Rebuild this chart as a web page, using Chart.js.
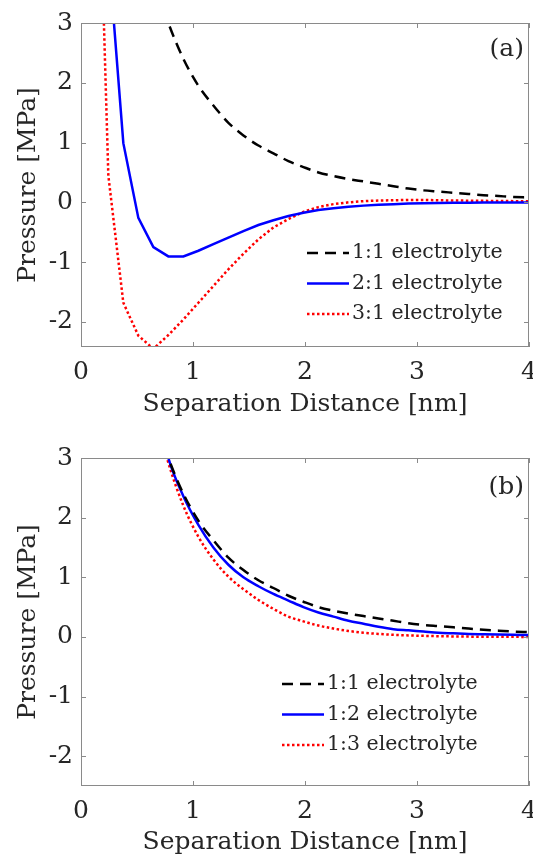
<!DOCTYPE html>
<html lang="en">
<head>
<meta charset="UTF-8">
<title>Pressure vs separation distance</title>
<script src="https://cdn.jsdelivr.net/npm/chart.js@4"></script>
<style>
  body { margin: 0; background: #fff; }
  .panel { position: absolute; left: 0; }
</style>
</head>
<body>
<div class="panel" style="top:0"><canvas id="chartA" width="533" height="430"></canvas></div>
<div class="panel" style="top:430px"><canvas id="chartB" width="533" height="425"></canvas></div>

<script>
// separation distance [nm], same grid for every curve
var dist = [0.11, 0.244, 0.378, 0.512, 0.646, 0.78, 0.914, 1.048, 1.182, 1.316, 1.45, 1.584, 1.718, 1.852, 1.986,
            2.12, 2.254, 2.388, 2.522, 2.656, 2.79, 2.924, 3.058, 3.192, 3.326, 3.46, 3.594, 3.728, 3.862, 3.996];

// pressure [MPa], panel (a)
var p11 = [20, 10, 6.5, 4.8, 3.75, 3.0, 2.4, 1.95, 1.62, 1.33, 1.12, 0.95, 0.82, 0.69, 0.59,
           0.5, 0.44, 0.39, 0.35, 0.31, 0.27, 0.23, 0.2, 0.18, 0.16, 0.14, 0.12, 0.105, 0.09, 0.08];
var p21 = [20, 4.2, 0.99, -0.26, -0.75, -0.905, -0.905, -0.81, -0.70, -0.59, -0.48, -0.38, -0.30, -0.23, -0.175,
           -0.13, -0.10, -0.075, -0.055, -0.04, -0.03, -0.02, -0.015, -0.01, -0.008, -0.005, -0.004, -0.003, -0.002, -0.001];
var p31 = [9.1, 0.45, -1.68, -2.23, -2.45, -2.22, -1.96, -1.68, -1.4, -1.12, -0.86, -0.62, -0.42, -0.28, -0.16,
           -0.08, -0.03, 0.0, 0.02, 0.03, 0.035, 0.04, 0.04, 0.035, 0.03, 0.028, 0.025, 0.022, 0.02, 0.018];

// pressure [MPa], panel (b) (1:1 is the same curve as in (a))
var p12 = [40, 15, 8.5, 5.8, 4.1, 3.0, 2.36, 1.88, 1.5, 1.21, 1.0, 0.85, 0.72, 0.61, 0.5,
           0.41, 0.34, 0.27, 0.22, 0.17, 0.13, 0.11, 0.09, 0.07, 0.06, 0.05, 0.045, 0.04, 0.035, 0.03];
var p13 = [35, 13, 7.8, 5.4, 3.9, 2.92, 2.2, 1.68, 1.3, 1.01, 0.8, 0.62, 0.47, 0.34, 0.26,
           0.19, 0.14, 0.1, 0.07, 0.05, 0.035, 0.025, 0.018, 0.012, 0.008, 0.005, 0.003, 0.002, 0.001, 0.0];

var xTicks = [0, 1, 2, 3, 4];
var yTicks = [-2, -1, 0, 1, 2, 3];

var SERIF = "'DejaVu Serif', serif";
var INK = '#262626';

function pts(ys) {
  return dist.map(function (x, i) { return { x: x, y: ys[i] }; });
}

function dashed(label, ys) {
  return { label: label, data: pts(ys), borderColor: '#000', borderWidth: 2.5, borderDash: [11, 7],
           cubicInterpolationMode: 'monotone' };
}
function solid(label, ys, smooth) {
  return { label: label, data: pts(ys), borderColor: '#0000ff', borderWidth: 2.5, borderDash: [],
           cubicInterpolationMode: smooth ? 'monotone' : 'default' };
}
function dotted(label, ys, smooth) {
  return { label: label, data: pts(ys), borderColor: '#ff0000', borderWidth: 2.5, borderDash: [2.5, 2.5],
           cubicInterpolationMode: smooth ? 'monotone' : 'default' };
}

// box, inward ticks, panel tag and in-plot legend
var decor = {
  id: 'decor',
  afterDatasetsDraw: function (chart, args, o) {
    var ctx = chart.ctx, a = chart.chartArea;
    var xs = chart.scales.x, ys = chart.scales.y;
    ctx.save();
    ctx.strokeStyle = '#8a8a8a';
    ctx.lineWidth = 1;
    ctx.setLineDash([]);
    ctx.strokeRect(a.left + 0.5, a.top + 0.5, a.right - a.left - 1, a.bottom - a.top - 1);
    ctx.beginPath();
    xs.ticks.forEach(function (t) {
      var px = Math.round(xs.getPixelForValue(t.value)) + 0.5;
      ctx.moveTo(px, a.bottom); ctx.lineTo(px, a.bottom - 5);
      ctx.moveTo(px, a.top); ctx.lineTo(px, a.top + 5);
    });
    ys.ticks.forEach(function (t) {
      var py = Math.round(ys.getPixelForValue(t.value)) + 0.5;
      ctx.moveTo(a.left, py); ctx.lineTo(a.left + 5, py);
      ctx.moveTo(a.right, py); ctx.lineTo(a.right - 5, py);
    });
    ctx.stroke();

    ctx.fillStyle = INK;
    ctx.font = '25px ' + SERIF;
    ctx.textAlign = 'right';
    ctx.textBaseline = 'middle';
    ctx.fillText(o.tag, a.right - 5, a.top + o.tagY);

    // legend
    ctx.font = '20.5px ' + SERIF;
    ctx.textAlign = 'left';
    chart.data.datasets.forEach(function (d, i) {
      var x0 = a.left + o.legX, y0 = a.top + o.legY + i * 30.5;
      ctx.strokeStyle = d.borderColor;
      ctx.lineWidth = d.borderWidth;
      ctx.setLineDash(d.borderDash);
      ctx.beginPath();
      ctx.moveTo(x0, y0); ctx.lineTo(x0 + 42, y0);
      ctx.stroke();
      ctx.fillText(d.label, x0 + 45, y0);
    });
    ctx.restore();
  }
};

function makeChart(id, datasets, cfg) {
  return new Chart(document.getElementById(id), {
    type: 'line',
    data: { datasets: datasets },
    plugins: [decor],
    options: {
      responsive: false,
      animation: false,
      layout: { padding: { left: 0, right: 4, top: cfg.top, bottom: 0 } },
      elements: {
        point: { radius: 0 },
        line: { tension: 0, borderCapStyle: 'butt' }
      },
      datasets: { line: { clip: 0 } },
      plugins: {
        legend: { display: false },
        tooltip: { enabled: false },
        decor: { tag: cfg.tag, tagY: cfg.tagY, legX: cfg.legX, legY: cfg.legY }
      },
      scales: {
        x: {
          type: 'linear', min: 0, max: 4,
          grid: { display: false, drawTicks: false },
          border: { display: false },
          afterBuildTicks: function (s) { s.ticks = xTicks.map(function (v) { return { value: v }; }); },
          afterFit: function (s) { s.height = cfg.xh; s.paddingLeft = 0; s.paddingRight = 0; },
          ticks: { color: INK, padding: 10, maxRotation: 0, font: { family: SERIF, size: 25 } },
          title: {
            display: true, text: 'Separation Distance [nm]', color: INK,
            font: { family: SERIF, size: 25, lineHeight: 1 }, padding: { top: 0, bottom: cfg.titlePad }
          }
        },
        y: {
          type: 'linear', min: cfg.ymin, max: 3,
          grid: { display: false, drawTicks: false },
          border: { display: false },
          afterBuildTicks: function (s) { s.ticks = yTicks.map(function (v) { return { value: v }; }); },
          afterFit: function (s) { s.width = 81; },
          ticks: { color: INK, padding: 8, font: { family: SERIF, size: 25 } },
          title: {
            display: true, text: 'Pressure [MPa]', color: INK,
            font: { family: SERIF, size: 25, lineHeight: 1 }, padding: { top: 16, bottom: 0 }
          }
        }
      }
    }
  });
}

makeChart('chartA', [
  dashed('1:1 electrolyte', p11),
  solid('2:1 electrolyte', p21, false),
  dotted('3:1 electrolyte', p31, false)
], { top: 23, xh: 83, ymin: -2.42, titlePad: 13, tag: '(a)', tagY: 26, legX: 226, legY: 230 });

makeChart('chartB', [
  dashed('1:1 electrolyte', p11),
  solid('1:2 electrolyte', p12, true),
  dotted('1:3 electrolyte', p13, true)
], { top: 28, xh: 69, ymin: -2.5, titlePad: 0, tag: '(b)', tagY: 29, legX: 201, legY: 226 });
</script>
</body>
</html>
